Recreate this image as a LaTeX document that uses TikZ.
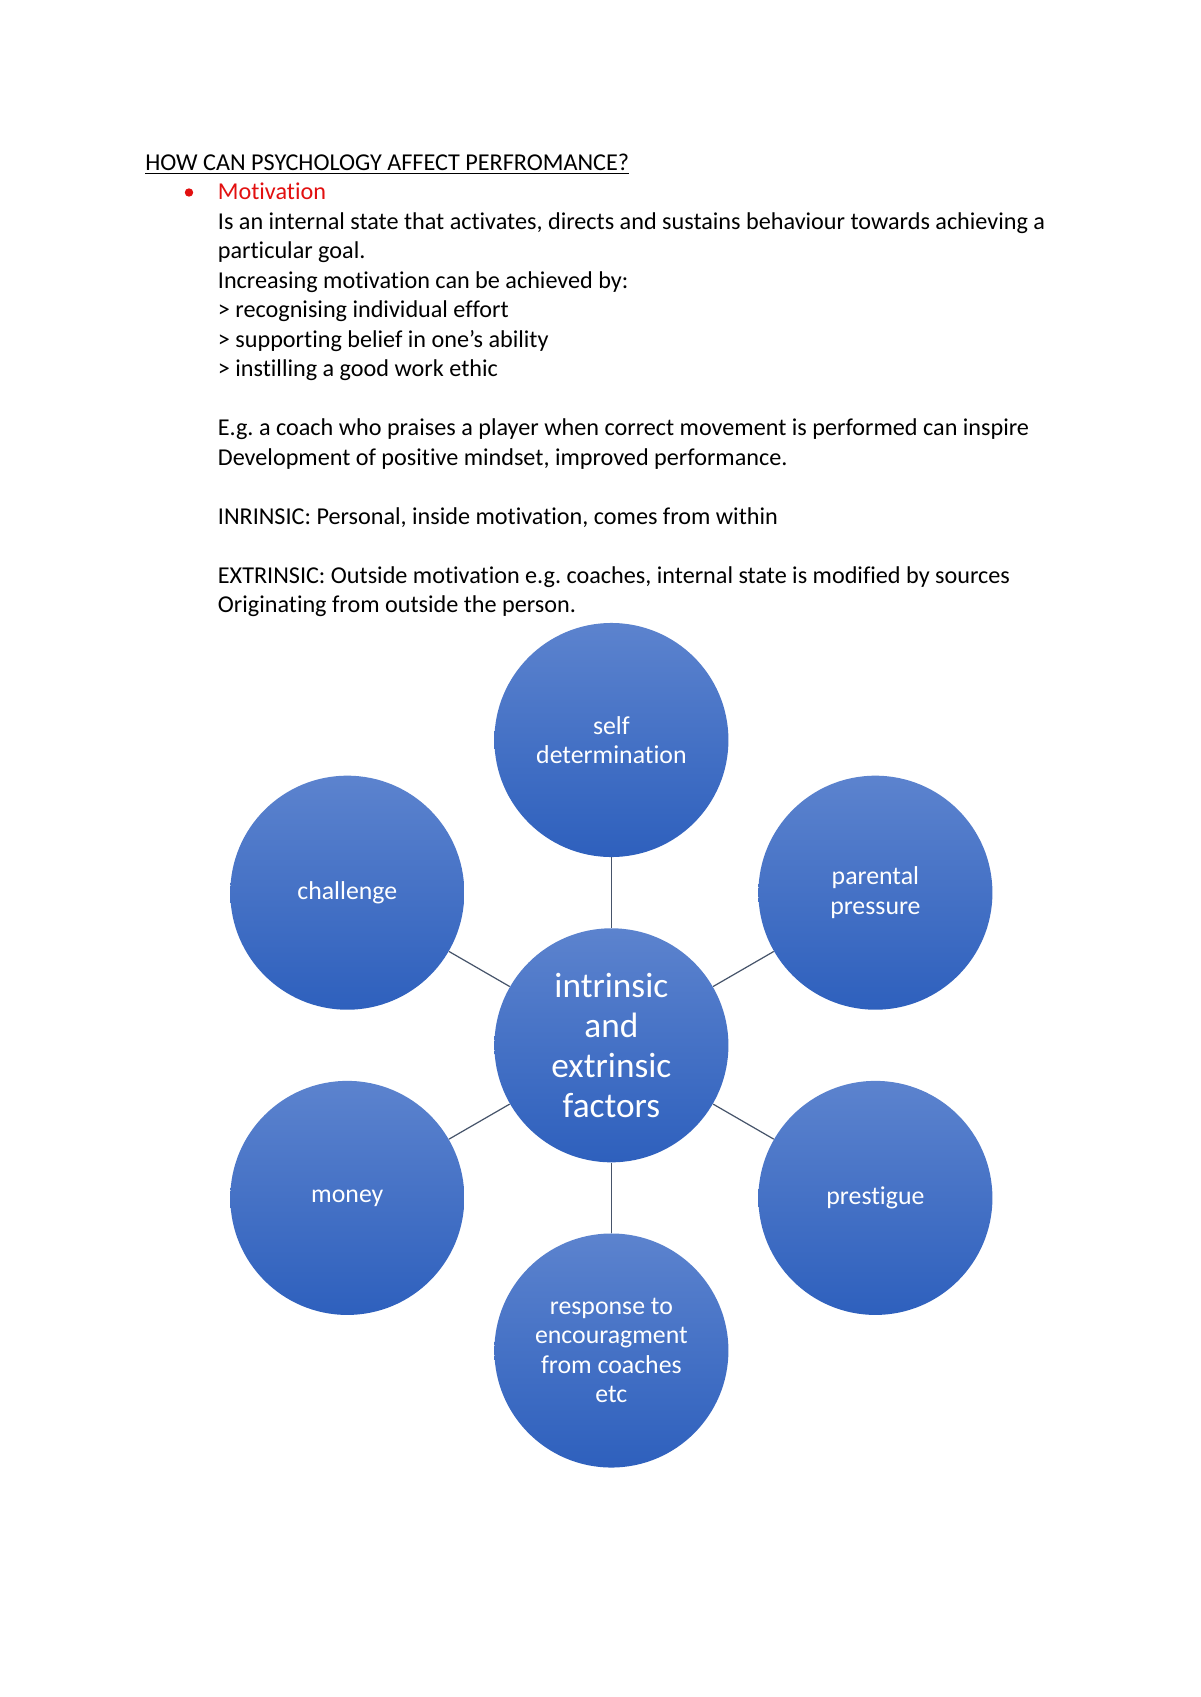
\documentclass[tikz,border=0pt]{standalone}
\usepackage{fontspec}
\setmainfont{Carlito}[Ligatures=NoCommon]
\frenchspacing
\definecolor{ctop}{RGB}{92,131,206}
\definecolor{cbot}{RGB}{46,96,189}
\definecolor{linkc}{RGB}{70,84,106}
\definecolor{motred}{RGB}{226,16,16}
\begin{document}
\begin{tikzpicture}[x=0.49607pt,y=-0.49607pt,
  bodytext/.style={anchor=base west,inner sep=0pt,font=\fontsize{12}{14.6}\selectfont,text=black},
  bubble/.style={circle,minimum size=116.1pt,inner sep=0pt,top color=ctop,bottom color=cbot,draw=none,
    text=white,align=center,font=\fontsize{12.8}{14.5}\selectfont},
  hub/.style={bubble,font=\fontsize{17.5}{19.8}\selectfont},
  link/.style={draw=linkc,line width=0.6pt}]
\useasboundingbox (0,0) rectangle (1200,1697);
\fill[white] (0,0) rectangle (1200,1697);
% text
\node[bodytext] (title) at (145,170.5) {\underline{HOW CAN PSYCHOLOGY AFFECT PERFROMANCE?}};
\fill[motred] (189,192.5) circle (4.2);
\node[bodytext,text=motred] (mot) at (217.5,200) {Motivation};
\node[bodytext] (l1) at (217.5,229.5) {Is an internal state that activates, directs and sustains behaviour towards achieving a};
\node[bodytext] (l2) at (217.5,259) {particular goal.};
\node[bodytext] (l3) at (217.5,288.5) {Increasing motivation can be achieved by:};
\node[bodytext] (l4) at (217.5,318) {> recognising individual effort};
\node[bodytext] (l5) at (217.5,347.5) {> supporting belief in one’s ability};
\node[bodytext] (l6) at (217.5,377) {> instilling a good work ethic};
\node[bodytext] (l7) at (217.5,435.5) {E.g. a coach who praises a player when correct movement is performed can inspire};
\node[bodytext] (l8) at (217.5,465) {Development of positive mindset, improved performance.};
\node[bodytext] (l9) at (217.5,524) {INRINSIC: Personal, inside motivation, comes from within};
\node[bodytext] (l10) at (217.5,583) {EXTRINSIC: Outside motivation e.g. coaches, internal state is modified by sources};
\node[bodytext] (l11) at (217.5,612.5) {Originating from outside the person.};
% diagram
\node[hub] (c) at (611.4,1045.3) {intrinsic\\and\\extrinsic\\factors};
\node[bubble] (t) at (611.4,740) {self\\determination};
\node[bubble] (ch) at (347.3,892.7) {challenge};
\node[bubble] (pp) at (875.4,892.7) {parental\\pressure};
\node[bubble] (mo) at (347.3,1197.9) {money};
\node[bubble] (pr) at (875.4,1197.9) {prestigue};
\node[bubble] (b) at (611.4,1350.5) {response to\\encouragment\\from coaches\\etc};
\draw[link] (c) -- (t);
\draw[link] (c) -- (ch);
\draw[link] (c) -- (pp);
\draw[link] (c) -- (mo);
\draw[link] (c) -- (pr);
\draw[link] (c) -- (b);
\end{tikzpicture}
\end{document}
